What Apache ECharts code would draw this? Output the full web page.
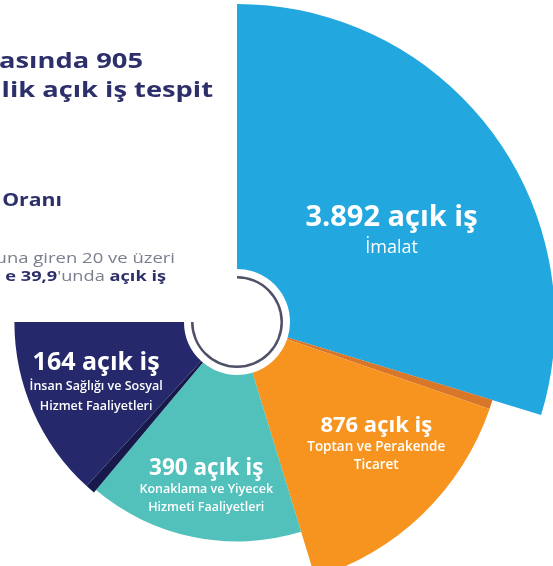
<!DOCTYPE html>
<html>
<head>
<meta charset="utf-8">
<script src="https://cdn.jsdelivr.net/npm/echarts@6/dist/echarts.min.js"></script>
<style>
  html, body { margin: 0; padding: 0; background: #fff; }
  #chart { width: 553px; height: 566px; }
</style>
</head>
<body>
<div id="chart"></div>
<script>
// sectors, clockwise from 12 o'clock
const sectors = ['İmalat', 'Toptan ve Perakende', 'Konaklama ve Yiyecek', 'İnsan Sağlığı ve Sosyal'];
const sectorsLine2 = ['', 'Ticaret', 'Hizmeti Faaliyetleri', 'Hizmet Faaliyetleri'];
const openJobs = [3892, 876, 390, 164];
// angular extent (degrees) and relative reach (%) as drawn in the infographic
const arcDegrees = [107, 56, 57, 50];
const reachPct = [100, 84, 69, 70];

const colors = ['#22a7df', '#f6941f', '#52c0bb', '#25286a'];
const shades = [null, '#d8772a', null, '#17194b'];
const shadeDeg = [0, 2, 0, 2.5];
const labelStyle = [
  { main: 29, mainLh: 34, sub: 18, subLh: 26, subWeight: 'normal', dx: 3, dy: 21 },
  { main: 22, mainLh: 26, sub: 13.5, subLh: 18, subWeight: 600, dx: 26, dy: 4 },
  { main: 22.5, mainLh: 24, sub: 12.5, subLh: 18, subWeight: 600, dx: -3, dy: 28 },
  { main: 25, mainLh: 27, sub: 12.5, subLh: 20, subWeight: 600, dx: -12, dy: 4 }
];

const center = [237, 322];
const innerR = 53;
const maxR = 318;

function trNumber(n) {
  return String(n).replace(/\B(?=(\d{3})+(?!\d))/g, '.');
}

let chart = echarts.init(document.getElementById('chart'));

let series = [];
let cum = 0;
sectors.forEach((name, i) => {
  let ls = labelStyle[i];
  let lines = '{v|' + trNumber(openJobs[i]) + ' açık iş}\n{n|' + name + '}';
  if (sectorsLine2[i]) lines += '\n{n|' + sectorsLine2[i] + '}';
  let data = [];
  if (shadeDeg[i] > 0) {
    data.push({ value: shadeDeg[i], name: name + ' ', itemStyle: { color: shades[i] }, label: { show: false } });
  }
  data.push({ value: arcDegrees[i] - shadeDeg[i], name: name, itemStyle: { color: colors[i] } });
  series.push({
    type: 'pie',
    center: center,
    radius: [innerR, maxR * reachPct[i] / 100],
    startAngle: 90 - cum,
    endAngle: 90 - cum - arcDegrees[i],
    clockwise: true,
    silent: true,
    animation: false,
    avoidLabelOverlap: false,
    labelLine: { show: false },
    emphasis: { disabled: true },
    label: {
      show: true,
      position: 'inside',
      formatter: () => lines,
      color: '#fff',
      fontFamily: 'Open Sans',
      rich: {
        v: { fontSize: ls.main, fontWeight: 'bold', lineHeight: ls.mainLh, color: '#fff', fontFamily: 'Open Sans' },
        n: { fontSize: ls.sub, fontWeight: ls.subWeight, lineHeight: ls.subLh, color: '#fff', fontFamily: 'Open Sans' }
      }
    },
    labelLayout: { dx: ls.dx, dy: ls.dy },
    data: data
  });
  cum += arcDegrees[i];
});

// thin ring around the hub, following the drawn arc
series.push({
  type: 'pie',
  center: center,
  radius: [43.5, 46],
  startAngle: 90,
  endAngle: 90 - cum,
  clockwise: true,
  silent: true,
  animation: false,
  label: { show: false },
  labelLine: { show: false },
  itemStyle: { color: '#4f5168' },
  data: [{ value: cum, name: 'ring' }]
});

const navy = '#2c2f6a';
const grey = '#7a7d8c';

function cutText(x, y, text, font, fill, sx) {
  return {
    type: 'text', x: x, y: y, scaleX: sx,
    style: { text: text, font: font, fill: fill, align: 'right', textAlign: 'right', verticalAlign: 'middle', textVerticalAlign: 'middle' }
  };
}

chart.setOption({
  backgroundColor: '#fff',
  animation: false,
  series: series,
  graphic: [
    cutText(143, 62, 'asında 905', 'bold 22px "Open Sans"', navy, 1.24),
    cutText(213, 91, 'lik açık iş tespit', 'bold 22px "Open Sans"', navy, 1.24),
    cutText(62, 201, 'Oranı', 'bold 18px "Open Sans"', navy, 1.18),
    cutText(175, 259, 'una giren 20 ve üzeri', '14px "Open Sans"', grey, 1.32),
    {
      type: 'text', x: 166, y: 277, scaleX: 1.3,
      style: {
        text: '{b|e 39,9}{r|\'unda }{b|açık iş}',
        align: 'right', textAlign: 'right', verticalAlign: 'middle', textVerticalAlign: 'middle',
        rich: {
          b: { fontSize: 14, fontWeight: 'bold', fill: navy, color: navy, fontFamily: 'Open Sans' },
          r: { fontSize: 14, fill: grey, color: grey, fontFamily: 'Open Sans' }
        }
      }
    }
  ]
});
</script>
</body>
</html>
